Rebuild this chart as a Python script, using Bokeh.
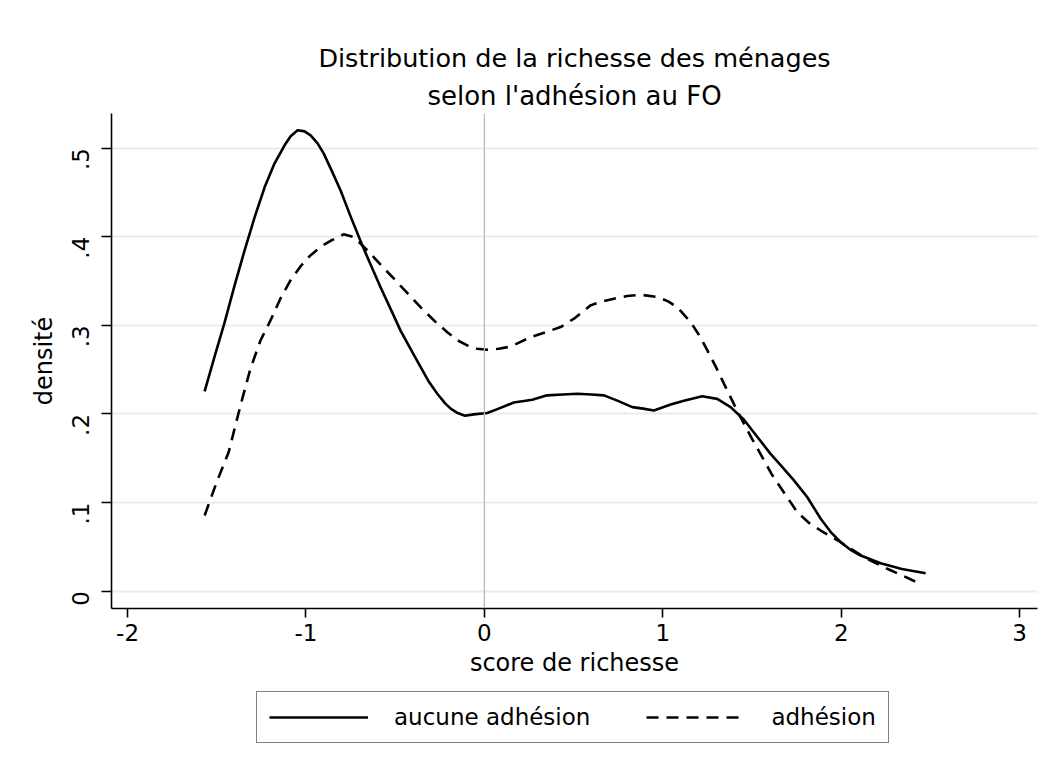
import math
from bokeh.plotting import figure
from bokeh.layouts import column
from bokeh.models import (Range1d, FixedTicker, Span, Title, Legend, LegendItem)
from bokeh.embed import file_html
from bokeh.resources import INLINE

# ---------------- data ----------------
x_aucune = [-1.568, -1.512, -1.456, -1.400, -1.344, -1.288, -1.232, -1.176, -1.120, -1.086,
            -1.047, -1.008, -0.974, -0.935, -0.901, -0.856, -0.806, -0.750, -0.684, -0.63,
            -0.582, -0.52, -0.470, -0.41, -0.358, -0.31, -0.264, -0.22, -0.189, -0.15,
            -0.109, -0.06, 0.016, 0.08, 0.165, 0.268, 0.352, 0.44, 0.521, 0.60,
            0.670, 0.745, 0.829, 0.89, 0.950, 1.044, 1.118, 1.221, 1.305, 1.380,
            1.455, 1.53, 1.604, 1.67, 1.735, 1.810, 1.885, 1.94, 1.997, 2.05,
            2.109, 2.221, 2.34, 2.473]
y_aucune = [0.2254, 0.2649, 0.3033, 0.3451, 0.3846, 0.4218, 0.4557, 0.4828, 0.5031, 0.5133,
            0.520, 0.5188, 0.5143, 0.5053, 0.494, 0.4746, 0.4522, 0.4229, 0.390, 0.365,
            0.343, 0.316, 0.294, 0.272, 0.253, 0.236, 0.2228, 0.212, 0.206, 0.201,
            0.198, 0.1995, 0.201, 0.206, 0.213, 0.216, 0.221, 0.222, 0.2228, 0.222,
            0.221, 0.215, 0.2077, 0.206, 0.204, 0.2107, 0.215, 0.220, 0.217, 0.2077,
            0.1935, 0.174, 0.155, 0.140, 0.125, 0.106, 0.0817, 0.067, 0.0553, 0.047,
            0.0403, 0.0316, 0.025, 0.0203]

x_adhesion = [-1.568, -1.501, -1.434, -1.367, -1.311, -1.255, -1.199, -1.143, -1.087, -1.031,
              -0.975, -0.918, -0.862, -0.789, -0.733, -0.655, -0.58, -0.507,
              -0.43, -0.358, -0.28, -0.208, -0.15, -0.096, -0.04, 0.016, 0.08, 0.147,
              0.20, 0.259, 0.34, 0.427, 0.502, 0.595, 0.66, 0.726, 0.80, 0.876,
              0.969, 1.03, 1.081, 1.156, 1.20, 1.250, 1.30, 1.361, 1.436, 1.50,
              1.558, 1.61, 1.660, 1.754, 1.82, 1.885, 1.997, 2.127, 2.258, 2.35, 2.436]
y_adhesion = [0.0855, 0.1228, 0.1565, 0.2096, 0.2513, 0.2829, 0.3055, 0.3303, 0.3507, 0.3665,
              0.3789, 0.3886, 0.3954, 0.4027, 0.3995, 0.3845, 0.368, 0.3526,
              0.336, 0.3205, 0.305, 0.2923, 0.283, 0.2773, 0.2735, 0.2725, 0.2735, 0.276,
              0.281, 0.2867, 0.292, 0.298, 0.3075, 0.3225, 0.327, 0.330, 0.333, 0.3345,
              0.332, 0.327, 0.3205, 0.3036, 0.290, 0.2717, 0.252, 0.2265, 0.196, 0.172,
              0.151, 0.132, 0.117, 0.089, 0.077, 0.0685, 0.0553, 0.0384, 0.0253, 0.017, 0.009]

x_ticks = [-2, -1, 0, 1, 2, 3]
x_tick_labels = ["-2", "-1", "0", "1", "2", "3"]
y_ticks = [0, 0.1, 0.2, 0.3, 0.4, 0.5]
y_tick_labels = ["0", ".1", ".2", ".3", ".4", ".5"]

title_text = "Distribution de la richesse des ménages"
subtitle_text = "selon l'adhésion au FO"
x_label = "score de richesse"
y_label = "densité"
series_labels = ["aucune adhésion", "adhésion"]

FONT = "DejaVu Sans"
X0, X1 = -2.09, 3.10
Y0, Y1 = -0.0195, 0.539

# ---------------- main chart ----------------
p = figure(width=1051, height=686, output_backend="svg", toolbar_location=None,
           x_range=Range1d(X0, X1), y_range=Range1d(Y0, Y1),
           min_border_left=111, min_border_right=14, min_border_top=113,
           min_border_bottom=78)
p.outline_line_color = None
p.background_fill_color = "white"
p.border_fill_color = "white"

# titles
p.add_layout(Title(text=subtitle_text, align="center", text_font=FONT,
                   text_font_size="26px", text_font_style="normal",
                   text_color="black", standoff=6), "above")
p.add_layout(Title(text=title_text, align="center", text_font=FONT,
                   text_font_size="25.5px", text_font_style="normal",
                   text_color="black", standoff=6), "above")

# grid
p.xgrid.grid_line_color = None
p.ygrid.grid_line_color = "#ebebeb"
p.ygrid.grid_line_width = 2
p.ygrid.ticker = FixedTicker(ticks=y_ticks)

# axes
for ax in (p.xaxis[0], p.yaxis[0]):
    ax.axis_line_color = "black"
    ax.axis_line_width = 1.6
    ax.major_tick_line_color = "black"
    ax.major_tick_line_width = 1.6
    ax.major_tick_in = 0
    ax.minor_tick_line_color = None
    ax.major_label_text_font = FONT
    ax.major_label_text_font_size = "23px"
    ax.major_label_text_color = "black"
    ax.axis_label_text_font = FONT
    ax.axis_label_text_font_style = "normal"
    ax.axis_label_text_color = "black"
    ax.axis_label_text_font_size = "24px"

p.xaxis.ticker = FixedTicker(ticks=x_ticks)
p.xaxis.major_label_overrides = {t: l for t, l in zip(x_ticks, x_tick_labels)}
p.xaxis.major_tick_out = 9
p.xaxis.major_label_standoff = 6
p.xaxis.axis_label = x_label
p.xaxis.axis_label_standoff = 5

p.yaxis.ticker = FixedTicker(ticks=y_ticks)
p.yaxis.major_label_overrides = {t: l for t, l in zip(y_ticks, y_tick_labels)}
p.yaxis.major_label_orientation = math.pi / 2
p.yaxis.major_tick_out = 10
p.yaxis.major_label_standoff = 21
p.yaxis.axis_label = y_label
p.yaxis.axis_label_standoff = 3

# vertical line at 0
p.add_layout(Span(location=0, dimension="height", line_color="#b8b8b8", line_width=1.3))

# curves
r1 = p.line(x_aucune, y_aucune, line_color="black", line_width=2.6, line_join="round")
r2 = p.line(x_adhesion, y_adhesion, line_color="black", line_width=2.6,
            line_dash="12 8", line_join="round")

# ---------------- legend strip ----------------
q = figure(width=1051, height=86, output_backend="svg", toolbar_location=None,
           x_range=Range1d(0, 1), y_range=Range1d(0, 1),
           x_axis_type=None, y_axis_type=None, min_border=0)
q.outline_line_color = None
q.grid.visible = False
q.background_fill_color = "white"
q.border_fill_color = "white"
# legend samples (kept outside the visible range of this strip)
l1 = q.line([5, 6], [5, 6], line_color="black", line_width=2.4)
l2 = q.line([5, 6], [5, 6], line_color="black", line_width=2.4, line_dash="12 8")
legend = Legend(items=[LegendItem(label=series_labels[0], renderers=[l1]),
                       LegendItem(label=series_labels[1], renderers=[l2])],
                orientation="horizontal", location=(145, 29),
                glyph_width=99, glyph_height=20, label_standoff=26, spacing=56,
                padding=12, margin=0,
                label_text_font=FONT, label_text_font_size="23px",
                label_text_color="black",
                border_line_color="black", border_line_width=1.6,
                background_fill_color="white", background_fill_alpha=1.0)
q.add_layout(legend)

layout = column(p, q, spacing=0)
open("out.html", "w").write(file_html(layout, INLINE))
